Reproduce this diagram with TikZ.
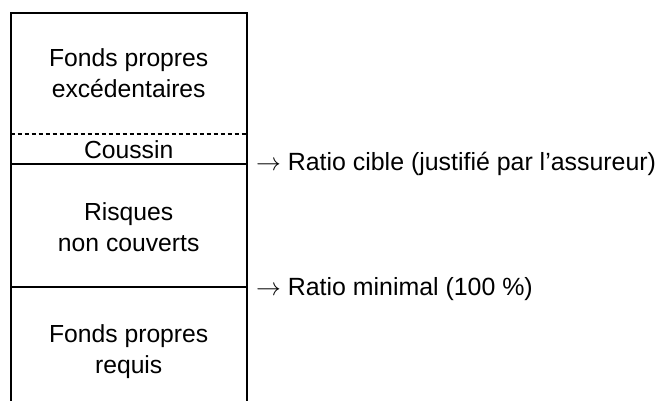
\documentclass[tikz,border=0pt]{standalone}
\usepackage{fontspec}
\setmainfont{Liberation Sans}
\begin{document}
\begin{tikzpicture}[x=1bp,y=-1bp,
  lbl/.style={font=\fontsize{24.7bp}{30.8bp}\selectfont, align=center, inner sep=0pt},
  rlbl/.style={font=\fontsize{24.9bp}{30bp}\selectfont, anchor=base west, inner sep=0pt},
  wall/.style={line width=2bp, black}]
\useasboundingbox (0,0) rectangle (668,400);
% box outline (bottom edge lies outside the picture)
\coordinate (bl) at (10.5,405);
\coordinate (tl) at (10.5,13);
\coordinate (tr) at (247,13);
\coordinate (br) at (247,405);
\draw[wall] (bl) -- (tl) -- (tr) -- (br);
% dividers
\coordinate (d1l) at (10.5,134);
\coordinate (d1r) at (247,134);
\coordinate (d2l) at (10.5,164);
\coordinate (d2r) at (247,164);
\coordinate (d3l) at (10.5,287);
\coordinate (d3r) at (247,287);
\draw[line width=1.4bp, dash pattern=on 4.5bp off 2.5bp] (d1l) -- (d1r);
\draw[line width=1.7bp] (d2l) -- (d2r);
\draw[line width=1.7bp] (d3l) -- (d3r);
% labels
\node[lbl] (fpe) at (128.7,73) {Fonds propres\\excédentaires};
\node[lbl, anchor=base] (cou) at (128.7,158) {Coussin};
\node[lbl] (rnc) at (128.7,227) {Risques\\non couverts};
\node[lbl] (fpr) at (128.7,351.5) {Fonds propres\\requis};
\node[rlbl] (rc) at (256,170) {$\rightarrow$ Ratio cible (justifié par l’assureur)};
\node[rlbl] (rm) at (256,295) {$\rightarrow$ Ratio minimal (100~\%)};
\end{tikzpicture}
\end{document}
